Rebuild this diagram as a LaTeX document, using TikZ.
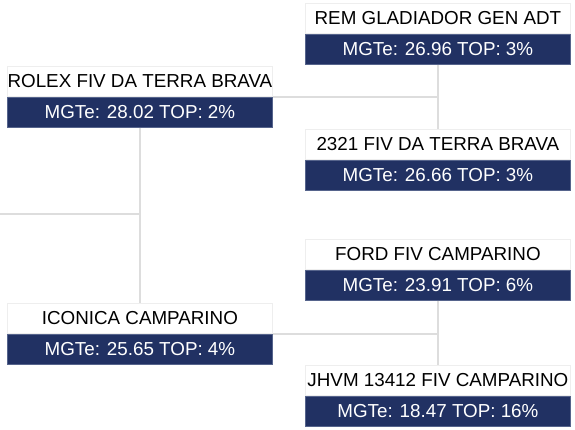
\documentclass[tikz,border=0pt]{standalone}
\usepackage{fontspec}
\setmainfont{Liberation Sans}
\usetikzlibrary{backgrounds}
\definecolor{navy}{HTML}{213163}
\definecolor{navyedge}{HTML}{56648C}
\definecolor{linegray}{HTML}{DDDDDD}
\definecolor{boxedge}{HTML}{EEEEEE}
\tikzset{
  namebox/.style={draw=boxedge, line width=0.8pt, fill=white, text=black,
    minimum width=265pt, minimum height=30pt, inner sep=0pt, anchor=north west,
    font=\fontsize{18.8}{21}\selectfont},
  barbox/.style={draw=navyedge, line width=0.8pt, fill=navy, text=white,
    minimum width=265pt, minimum height=30pt, inner sep=0pt, anchor=north,
    font=\fontsize{18.8}{21}\selectfont},
  conn/.style={draw=linegray, line width=1.5pt}
}
\begin{document}
\begin{tikzpicture}[x=1pt,y=-1pt]
\useasboundingbox (0,0) rectangle (575,430);
% right top
\node[namebox] (rem) at (305,3) {REM GLADIADOR GEN ADT};
\node[barbox] (remb) at (rem.south) {MGTe: 26.96 TOP: 3\%};
\node[namebox] (tdt) at (305,129) {2321 FIV DA TERRA BRAVA};
\node[barbox] (tdtb) at (tdt.south) {MGTe: 26.66 TOP: 3\%};
% left
\node[namebox] (rolex) at (7,66) {ROLEX FIV DA TERRA BRAVA};
\node[barbox] (rolexb) at (rolex.south) {MGTe: 28.02 TOP: 2\%};
\node[namebox] (iconica) at (7,303) {ICONICA CAMPARINO};
\node[barbox] (iconicab) at (iconica.south) {MGTe: 25.65 TOP: 4\%};
% right bottom
\node[namebox] (ford) at (305,239) {FORD FIV CAMPARINO};
\node[barbox] (fordb) at (ford.south) {MGTe: 23.91 TOP: 6\%};
\node[namebox] (jhvm) at (305,365) {JHVM 13412 FIV CAMPARINO};
\node[barbox] (jhvmb) at (jhvm.south) {MGTe: 18.47 TOP: 16\%};
\coordinate (subj) at (0,214);
\begin{scope}[on background layer]
\draw[conn] (remb.south) -- (tdt.north);
\draw[conn] (rolexb.north east) -- (rolexb.north east -| remb.south);
\draw[conn] (fordb.south) -- (jhvm.north);
\draw[conn] (iconicab.north east) -- (iconicab.north east -| fordb.south);
\draw[conn] (rolexb.south) -- (iconica.north);
\draw[conn] (subj) -- (subj -| rolexb.south);
\end{scope}
\end{tikzpicture}
\end{document}
